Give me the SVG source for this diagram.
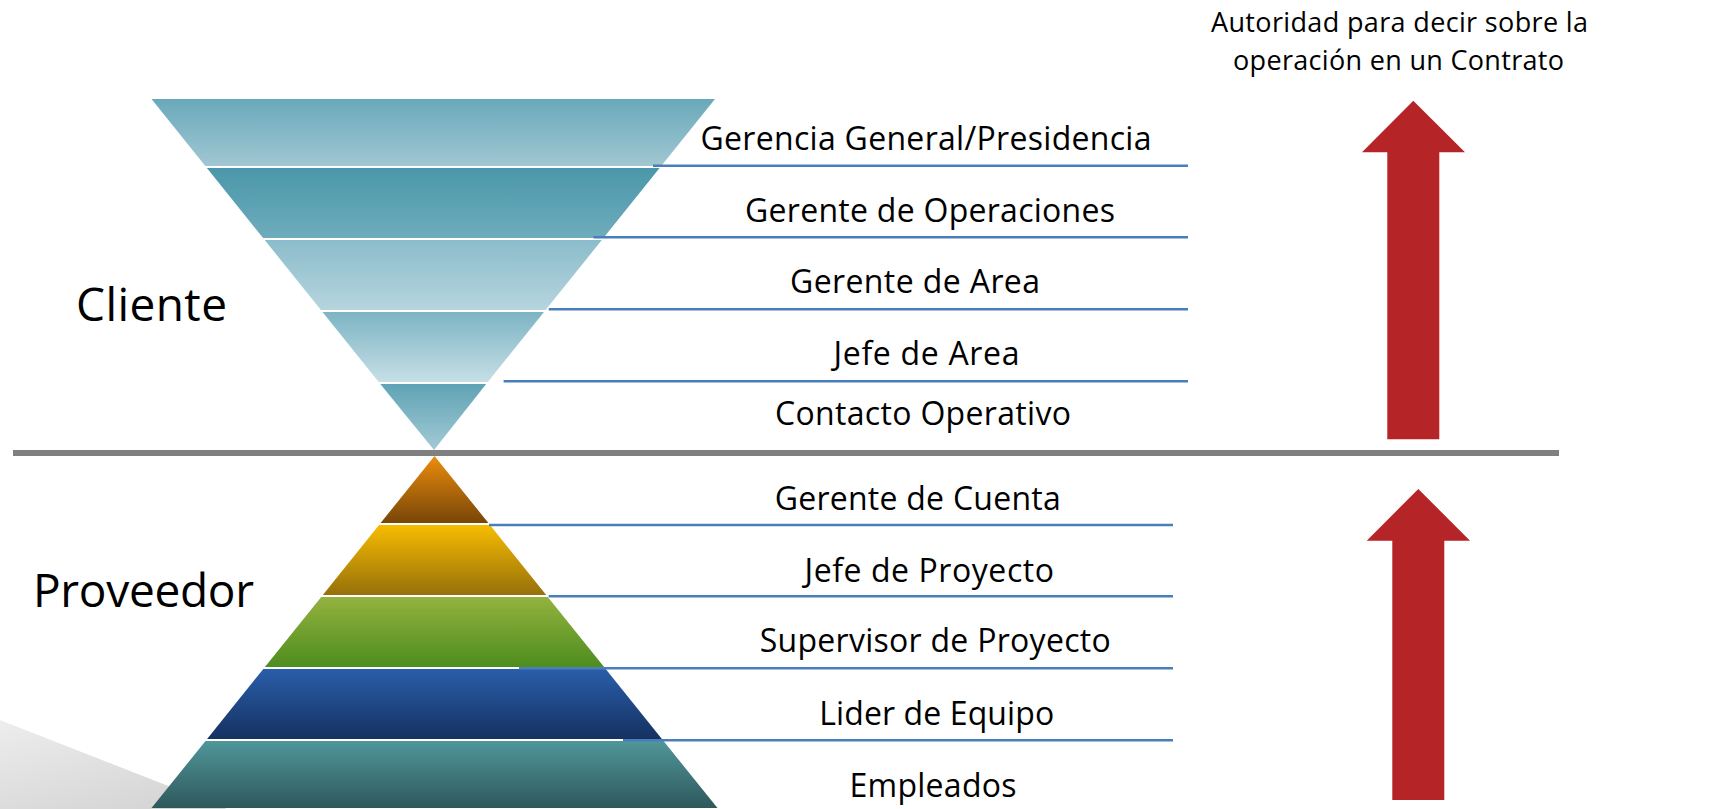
<svg xmlns="http://www.w3.org/2000/svg" width="1727" height="809" viewBox="0 0 1727 809">
<defs>
<linearGradient id="bg" x1="0" y1="0" x2="0.6" y2="1"><stop offset="0" stop-color="#ededed"/><stop offset="1" stop-color="#d6d6d6"/></linearGradient>
<linearGradient id="c1" x1="0" y1="0" x2="0" y2="1"><stop offset="0" stop-color="#69a9ba"/><stop offset="1" stop-color="#a0c7d2"/></linearGradient>
<linearGradient id="c2" x1="0" y1="0" x2="0" y2="1"><stop offset="0" stop-color="#4a97a9"/><stop offset="1" stop-color="#6eacbd"/></linearGradient>
<linearGradient id="c3" x1="0" y1="0" x2="0" y2="1"><stop offset="0" stop-color="#8bbccb"/><stop offset="1" stop-color="#b6d5de"/></linearGradient>
<linearGradient id="c4" x1="0" y1="0" x2="0" y2="1"><stop offset="0" stop-color="#7db4c4"/><stop offset="1" stop-color="#c6dfe6"/></linearGradient>
<linearGradient id="c5" x1="0" y1="0" x2="0" y2="1"><stop offset="0" stop-color="#5fa3b5"/><stop offset="1" stop-color="#a3cad5"/></linearGradient>
<linearGradient id="p1" x1="0" y1="0" x2="0" y2="1"><stop offset="0" stop-color="#ec8c0e"/><stop offset="1" stop-color="#774607"/></linearGradient>
<linearGradient id="p2" x1="0" y1="0" x2="0" y2="1"><stop offset="0" stop-color="#f7bc00"/><stop offset="1" stop-color="#96700b"/></linearGradient>
<linearGradient id="p3" x1="0" y1="0" x2="0" y2="1"><stop offset="0" stop-color="#94b23f"/><stop offset="1" stop-color="#4d8d1e"/></linearGradient>
<linearGradient id="p4" x1="0" y1="0" x2="0" y2="1"><stop offset="0" stop-color="#2a5eaa"/><stop offset="1" stop-color="#153161"/></linearGradient>
<linearGradient id="p5" x1="0" y1="0" x2="0" y2="1"><stop offset="0" stop-color="#50969a"/><stop offset="1" stop-color="#2e585c"/></linearGradient>
</defs>
<style>
.lbl{font-family:"Open Sans","Noto Sans","Liberation Sans",sans-serif;font-size:32px;fill:#000}
.big{font-family:"Open Sans","Noto Sans","Liberation Sans",sans-serif;font-size:46px;fill:#000}
.top{font-family:"Open Sans","Noto Sans","Liberation Sans",sans-serif;font-size:27px;fill:#000}
.conn{stroke:#4a7ebb;stroke-width:2.5;fill:none}
.arrow{fill:#b52426}
</style>
<rect width="1727" height="809" fill="#ffffff"/>
<polygon id="backdrop" points="0,720 227,809 0,809" fill="url(#bg)"/>

<g id="cliente-piramide">
<g id="c-gerencia"><polygon points="151.5,99 715,99 661.2,166 205.3,166" fill="url(#c1)"/></g>
<g id="c-gerente-op"><polygon points="206.9,168 659.6,168 603.4,238 263.1,238" fill="url(#c2)"/></g>
<g id="c-gerente-area"><polygon points="264.7,240 601.8,240 545.6,310 320.9,310" fill="url(#c3)"/></g>
<g id="c-jefe-area"><polygon points="322.5,312 544,312 487.8,382 378.7,382" fill="url(#c4)"/></g>
<g id="c-contacto"><polygon points="380.3,384 486.2,384 434,450" fill="url(#c5)"/></g>
</g>

<g id="proveedor-piramide">
<g id="p-gerente-cuenta"><polygon points="434.5,456 488.4,523 380.6,523" fill="url(#p1)"/></g>
<g id="p-jefe-proyecto"><polygon points="379,525 490,525 546.2,595 322.8,595" fill="url(#p2)"/></g>
<g id="p-supervisor"><polygon points="321.2,597 547.8,597 604.1,667 264.9,667" fill="url(#p3)"/></g>
<g id="p-lider"><polygon points="263.3,669 605.7,669 661.9,739 207.1,739" fill="url(#p4)"/></g>
<g id="p-empleados"><polygon points="205.5,741 663.5,741 717.5,808 151.5,808" fill="url(#p5)"/></g>
</g>

<g id="separador"><line x1="13" y1="453" x2="1559" y2="453" stroke="#808080" stroke-width="6"/></g>

<g id="connectors">
<line class="conn" x1="653" y1="165.7" x2="1188" y2="165.7"/>
<line class="conn" x1="593.5" y1="237.3" x2="1188" y2="237.3"/>
<line class="conn" x1="548.7" y1="309.3" x2="1188" y2="309.3"/>
<line class="conn" x1="503.6" y1="381.3" x2="1188" y2="381.3"/>
<line class="conn" x1="489" y1="525" x2="1173" y2="525"/>
<line class="conn" x1="548.7" y1="596.3" x2="1173" y2="596.3"/>
<line class="conn" x1="519" y1="668.3" x2="1173" y2="668.3"/>
<line class="conn" x1="623" y1="740.3" x2="1173" y2="740.3"/>
</g>

<g id="labels-cliente">
<text class="lbl" x="700.5" y="150" textLength="451">Gerencia General/Presidencia</text>
<text class="lbl" x="745" y="221.7" textLength="370">Gerente de Operaciones</text>
<text class="lbl" x="790" y="293" textLength="250">Gerente de Area</text>
<text class="lbl" x="833.5" y="365" textLength="186">Jefe de Area</text>
<text class="lbl" x="775" y="425" textLength="296">Contacto Operativo</text>
</g>
<g id="labels-proveedor">
<text class="lbl" x="774.7" y="510" textLength="286">Gerente de Cuenta</text>
<text class="lbl" x="804.5" y="581.7" textLength="249.5">Jefe de Proyecto</text>
<text class="lbl" x="759.7" y="652.3" textLength="351">Supervisor de Proyecto</text>
<text class="lbl" x="819.2" y="725" textLength="235">Lider de Equipo</text>
<text class="lbl" x="849.5" y="796.7" textLength="167">Empleados</text>
</g>

<g id="cliente"><text class="big" x="76" y="320.7" textLength="151">Cliente</text></g>
<g id="proveedor"><text class="big" x="33" y="607.3" textLength="221">Proveedor</text></g>

<g id="autoridad">
<text class="top" x="1211" y="31.7" textLength="377">Autoridad para decir sobre la</text>
<text class="top" x="1233" y="70" textLength="331">operación en un Contrato</text>
</g>

<g id="flecha-cliente"><polygon class="arrow" points="1413.3,100.7 1465,152.3 1439.3,152.3 1439.3,439.3 1387.3,439.3 1387.3,152.3 1362,152.3"/></g>
<g id="flecha-proveedor"><polygon class="arrow" points="1418.3,489 1470,540.7 1444.3,540.7 1444.3,800 1392.3,800 1392.3,540.7 1366.7,540.7"/></g>
</svg>
